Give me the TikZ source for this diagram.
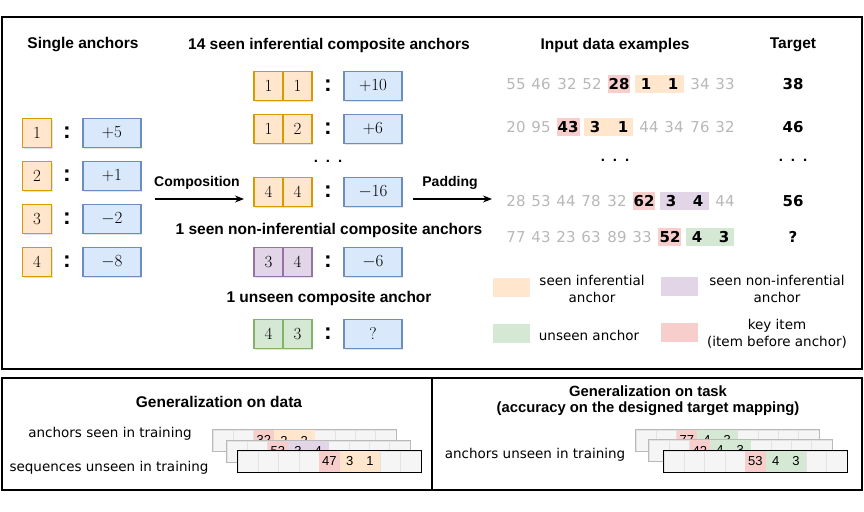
\RequirePackage{fix-cm}
\documentclass[tikz,border=0pt]{standalone}
\usepackage[no-math]{fontspec}
\setmainfont{Liberation Sans}
\newfontfamily\dv{DejaVu Sans}
\usetikzlibrary{arrows.meta,shadows}
\definecolor{oF}{HTML}{FFE6CC}\definecolor{oS}{HTML}{D79B00}
\definecolor{bF}{HTML}{DAE8FC}\definecolor{bS}{HTML}{6C8EBF}
\definecolor{pF}{HTML}{E1D5E7}\definecolor{pS}{HTML}{9673A6}
\definecolor{gF}{HTML}{D5E8D4}\definecolor{gS}{HTML}{82B366}
\definecolor{rF}{HTML}{F8CECC}
\definecolor{tokgray}{HTML}{B8B8B8}
\definecolor{cellF}{HTML}{F5F5F5}
\definecolor{cellL}{HTML}{E3E3E3}
\tikzset{
  box/.style={draw, line width=1.4pt, minimum height=29pt, inner sep=0pt,
    font=\fontsize{17}{20}\selectfont,
    drop shadow={shadow xshift=1.3pt, shadow yshift=-1.3pt, opacity=0.22}},
  obox/.style={box, draw=oS, fill=oF, minimum width=29pt},
  pbox/.style={box, draw=pS, fill=pF, minimum width=29pt},
  gbox/.style={box, draw=gS, fill=gF, minimum width=29pt},
  bbox/.style={box, draw=bS, fill=bF, minimum width=58pt},
  colon/.style={font=\bfseries\fontsize{23}{26}\selectfont, inner sep=0pt},
  ttl/.style={font=\bfseries\fontsize{15.5}{19}\selectfont, inner sep=0pt, align=center},
  lbl/.style={font=\bfseries\fontsize{14}{17}\selectfont, inner sep=0pt},
  tok/.style={font=\dv\fontsize{15}{18}\selectfont, text=tokgray, inner sep=0pt},
  keytok/.style={font=\dv\bfseries\fontsize{15}{18}\selectfont, inner sep=0pt},
  bgr/.style={inner sep=0pt, minimum height=18pt},
  leg/.style={font=\dv\fontsize{13.5}{17}\selectfont, align=center, inner sep=0pt},
  swatch/.style={inner sep=0pt, minimum width=37pt, minimum height=19pt},
  frame/.style={draw=black, line width=1.5pt},
  arr/.style={-{Stealth[length=9pt,width=7pt]}, line width=1.2pt},
  cell/.style={draw=cellL, line width=0.4pt, fill=cellF, minimum width=20.3pt,
    minimum height=21pt, inner sep=0pt, font=\fontsize{13}{15}\selectfont},
  ccell/.style={cell, draw=none},
  dots/.style={font=\bfseries\fontsize{15}{18}\selectfont, inner sep=0pt}
}
\newcommand{\datastrip}[9]{%
  \foreach \i in {0,...,8} {
    \node[cell] (#1c\i) at ({#2+10.15+20.3*\i},{#3+10.5}) {};
  }
  \node[ccell, fill=rF] (#1k) at ({#2+10.15+20.3*#5},{#3+10.5}) {#7};
  \node[ccell, fill=#6] (#1a) at ({#2+10.15+20.3*(#5+1)},{#3+10.5}) {#8};
  \node[ccell, fill=#6] (#1b) at ({#2+10.15+20.3*(#5+2)},{#3+10.5}) {#9};
  \draw[draw=#4, line width=0.8pt] (#1c0.north west) rectangle (#1c8.south east);
}
\begin{document}
\begin{tikzpicture}[x=1pt,y=-1pt]
\useasboundingbox (0,0) rectangle (864,511);
\fill[white] (0,0) rectangle (864,511);
% frames
\draw[frame] (2,17) rectangle (862,369);
\draw[frame] (2,378) rectangle (432,490);
\draw[frame] (432,378) rectangle (862,490);

% ---------- titles
\node[ttl] (tSingle) at (83,45) {Single anchors};
\node[ttl] (tSeen) at (329,45) {14 seen inferential composite anchors};
\node[ttl] (tNon) at (329,230) {1 seen non-inferential composite anchors};
\node[ttl] (tUnseen) at (329,298) {1 unseen composite anchor};
\node[ttl] (tInput) at (615,45) {Input data examples};
\node[ttl] (tTarget) at (793,45) {Target};

% ---------- single anchors
\node[obox] (s1) at (37,133) {$1$};
\node[obox] (s2) at (37,176) {$2$};
\node[obox] (s3) at (37,219) {$3$};
\node[obox] (s4) at (37,262) {$4$};
\node[colon] (sc1) at (67,133) {:};
\node[colon] (sc2) at (67,176) {:};
\node[colon] (sc3) at (67,219) {:};
\node[colon] (sc4) at (67,262) {:};
\node[bbox] (sv1) at (112,133) {$+5$};
\node[bbox] (sv2) at (112,176) {$+1$};
\node[bbox] (sv3) at (112,219) {$-2$};
\node[bbox] (sv4) at (112,262) {$-8$};

% ---------- composite anchors
\node[obox] (c1a) at (268.5,86) {$1$};
\node[obox] (c1b) at (297.5,86) {$1$};
\node[colon] (cc1) at (328,86) {:};
\node[bbox] (cv1) at (373,86) {$+10$};
\node[obox] (c2a) at (268.5,129) {$1$};
\node[obox] (c2b) at (297.5,129) {$2$};
\node[colon] (cc2) at (328,129) {:};
\node[bbox] (cv2) at (373,129) {$+6$};
\node[dots] (cdots) at (328,161) {.\hspace{8pt}.\hspace{8pt}.};
\node[obox] (c3a) at (268.5,192) {$4$};
\node[obox] (c3b) at (297.5,192) {$4$};
\node[colon] (cc3) at (328,192) {:};
\node[bbox] (cv3) at (373,192) {$-16$};
\node[pbox] (c4a) at (268.5,262) {$3$};
\node[pbox] (c4b) at (297.5,262) {$4$};
\node[colon] (cc4) at (328,262) {:};
\node[bbox] (cv4) at (373,262) {$-6$};
\node[gbox] (c5a) at (268.5,334) {$4$};
\node[gbox] (c5b) at (297.5,334) {$3$};
\node[colon] (cc5) at (328,334) {:};
\node[bbox] (cv5) at (373,334) {$?$};

% ---------- arrows
\node[lbl] (lComp) at (197,183) {Composition};
\coordinate (compS) at (155,199);
\coordinate (compE) at (244,199);
\draw[arr] (compS) -- (compE);
\node[lbl] (lPad) at (450,183) {Padding};
\coordinate (padS) at (413,199);
\coordinate (padE) at (492,199);
\draw[arr] (padS) -- (padE);

% ---------- data examples
% row 1
\node[bgr, fill=rF, minimum width=22pt] (r1k) at (619,84) {};
\node[bgr, fill=oF, minimum width=49pt] (r1a) at (659.5,84) {};
\node[tok] at (516,84) {55};
\node[tok] at (541,84) {46};
\node[tok] at (567,84) {32};
\node[tok] at (592,84) {52};
\node[keytok] at (619,84) {28};
\node[keytok] at (646,84) {1};
\node[keytok] at (673,84) {1};
\node[tok] at (700,84) {34};
\node[tok] at (725,84) {33};
% row 2
\node[bgr, fill=rF, minimum width=23pt] (r2k) at (568.5,127) {};
\node[bgr, fill=oF, minimum width=49pt] (r2a) at (608.5,127) {};
\node[tok] at (516,127) {20};
\node[tok] at (541,127) {95};
\node[keytok] at (568,127) {43};
\node[keytok] at (595,127) {3};
\node[keytok] at (623,127) {1};
\node[tok] at (649,127) {44};
\node[tok] at (674,127) {34};
\node[tok] at (700,127) {76};
\node[tok] at (725,127) {32};
% dots
\node[dots] (ddots) at (615,160) {.\hspace{8pt}.\hspace{8pt}.};
\node[dots] (tdots) at (793,160) {.\hspace{8pt}.\hspace{8pt}.};
% row 3
\node[bgr, fill=rF, minimum width=22pt] (r3k) at (644,201) {};
\node[bgr, fill=pF, minimum width=49pt] (r3a) at (684.5,201) {};
\node[tok] at (516,201) {28};
\node[tok] at (541,201) {53};
\node[tok] at (566,201) {44};
\node[tok] at (591,201) {78};
\node[tok] at (617,201) {32};
\node[keytok] at (644,201) {62};
\node[keytok] at (671,201) {3};
\node[keytok] at (698,201) {4};
\node[tok] at (725,201) {44};
% row 4
\node[bgr, fill=rF, minimum width=23pt] (r4k) at (669.5,237) {};
\node[bgr, fill=gF, minimum width=48pt] (r4a) at (710,237) {};
\node[tok] at (516,237) {77};
\node[tok] at (541,237) {43};
\node[tok] at (566,237) {23};
\node[tok] at (591,237) {63};
\node[tok] at (617,237) {89};
\node[tok] at (642,237) {33};
\node[keytok] at (670,237) {52};
\node[keytok] at (697,237) {4};
\node[keytok] at (724,237) {3};
% targets
\node[keytok] (y1) at (793,84) {38};
\node[keytok] (y2) at (793,127) {46};
\node[keytok] (y3) at (793,201) {56};
\node[keytok] (y4) at (793,237) {?};

% ---------- legend
\node[swatch, fill=oF] (lgO) at (511.5,287) {};
\node[leg] (lgOt) at (592,288.5) {seen inferential\\anchor};
\node[swatch, fill=pF] (lgP) at (679.5,286) {};
\node[leg] (lgPt) at (777,288.5) {seen non-inferential\\anchor};
\node[swatch, fill=gF] (lgG) at (511.5,333.5) {};
\node[leg] (lgGt) at (589,335) {unseen anchor};
\node[swatch, fill=rF] (lgR) at (679.5,332.5) {};
\node[leg] (lgRt) at (777,333.5) {key item\\(item before anchor)};

% ---------- generalization on data
\node[ttl] (gData) at (219,402) {Generalization on data};
\node[leg] (gDa) at (110,434) {anchors seen in training};
\node[leg] (gDb) at (109,468) {sequences unseen in training};
\datastrip{L1}{213}{430}{gray!55}{2}{oF}{32}{2}{2}
\datastrip{L2}{227}{441}{gray!55}{2}{pF}{53}{3}{4}
\datastrip{L3}{238}{451}{black}{4}{oF}{47}{3}{1}

% ---------- generalization on task
\node[ttl, font=\bfseries\fontsize{14.8}{16}\selectfont] (gTask) at (648,401) {Generalization on task\\(accuracy on the designed target mapping)};
\node[leg] (gTa) at (535,455) {anchors unseen in training};
\datastrip{R1}{636}{430}{gray!55}{2}{gF}{77}{4}{3}
\datastrip{R2}{649}{440}{gray!55}{2}{gF}{42}{4}{3}
\datastrip{R3}{664}{451}{black}{4}{gF}{53}{4}{3}
\end{tikzpicture}
\end{document}
